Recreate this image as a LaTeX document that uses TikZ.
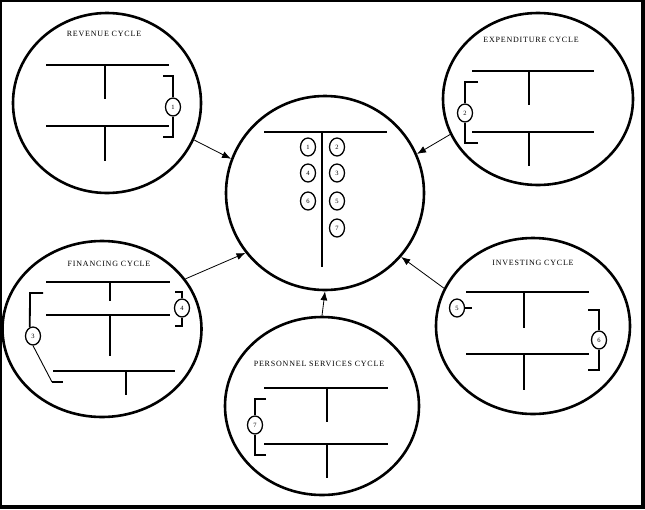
\documentclass[tikz,border=0pt]{standalone}
\usepackage{fontspec}
\setmainfont{Liberation Serif}
\usetikzlibrary{shapes.geometric, arrows.meta, positioning}
\tikzstyle{arrow} = [line width=0.8pt, -{Latex[length=9pt,width=7pt]}]

\begin{document}
\begin{tikzpicture}[
    x=1pt, y=-1pt,
    cycle/.style={ellipse, draw=black, line width=2.6pt, inner sep=0pt},
    num/.style={ellipse, draw=black, line width=1.3pt, fill=white, minimum width=15pt, minimum height=18pt, inner sep=0pt, font=\fontsize{6.5}{7}\selectfont},
    title/.style={font=\fontsize{8}{9}\selectfont\addfontfeatures{LetterSpace=10}, inner sep=0pt},
    tacc/.style={line width=2pt},
    brk/.style={line width=1.8pt},
]

% Frame
\fill[black] (0,0) rectangle (645,509);
\fill[white] (2,2) rectangle (641,505);

% Cycles
\node[cycle, minimum width=198pt, minimum height=194pt] (gl) at (325,193) {};
\node[cycle, minimum width=188pt, minimum height=180pt] (rev) at (107,103) {};
\node[cycle, minimum width=190pt, minimum height=172pt] (exp) at (538,99) {};
\node[cycle, minimum width=199pt, minimum height=176pt] (fin) at (102,329) {};
\node[cycle, minimum width=194pt, minimum height=176pt] (inv) at (533,326) {};
\node[cycle, minimum width=194pt, minimum height=178pt] (per) at (322,406) {};

% Titles
\node[title] (revt) at (104,34) {REVENUE CYCLE};
\node[title] (expt) at (531,40) {EXPENDITURE CYCLE};
\node[title] (fint) at (109,264) {FINANCING CYCLE};
\node[title] (invt) at (533,263) {INVESTING CYCLE};
\node[title] (pert) at (319,364) {PERSONNEL SERVICES CYCLE};

% T-accounts
\foreach \xa/\xb/\xm/\ya/\yb in {46/169/105/65/99, 46/169/105/126/161,
    472/594/529/71/105, 472/594/529/132/166,
    264/387/322/132/267,
    46/170/110/282/301, 46/170/110/315/356, 53/175/126/371/395,
    466/589/524/292/328, 466/589/524/354/390,
    264/388/327/388/422, 264/388/327/444/478} {
    \draw[tacc] (\xa,\ya) -- (\xb,\ya) (\xm,\ya) -- (\xm,\yb);
}

% Numbered entries in the central account
\foreach \n/\x/\y in {1/308/147, 4/308/173, 6/308/201,
    2/337/147, 3/337/173, 5/337/201, 7/337/228} {
    \node[num] (c\n) at (\x,\y) {\n};
}

% Numbered entries in the cycles
\node[num] (r1) at (173,107) {1};
\node[num] (e2) at (465,113) {2};
\node[num] (f4) at (182,308) {4};
\node[num] (f3) at (33,336) {3};
\node[num] (i5) at (457,308) {5};
\node[num] (i6) at (599,340) {6};
\node[num] (p7) at (255,425) {7};

% Brackets
\draw[brk] (163,76) -| (r1.north);
\draw[brk] (163,137) -| (r1.south);
\draw[brk] (478,82) -| (e2.north);
\draw[brk] (478,143) -| (e2.south);
\draw[brk] (175,292) -| (f4.north);
\draw[brk] (175,326) -| (f4.south);
\draw[brk] (43,293) -- (30,293) -- (f3.110);
\draw[line width=0.9pt] (f3.south) -- (52,382);
\draw[brk] (52,382) -- (63,382);
\draw[brk] (i5.east) -- (472,308);
\draw[brk] (588,310) -| (i6.north);
\draw[brk] (588,370) -| (i6.south);
\draw[brk] (266,399) -| (p7.north);
\draw[brk] (266,455) -| (p7.south);

% Arrows into the general ledger
\draw[arrow] (rev.-23) -- (gl.160);
\draw[arrow] (exp.-158) -- (gl.23);
\draw[arrow] (fin.31) -- (gl.-143);
\draw[arrow] (inv.157) -- (gl.-40);
\draw[arrow] (per.north) -- (gl.south);

\end{tikzpicture}
\end{document}
